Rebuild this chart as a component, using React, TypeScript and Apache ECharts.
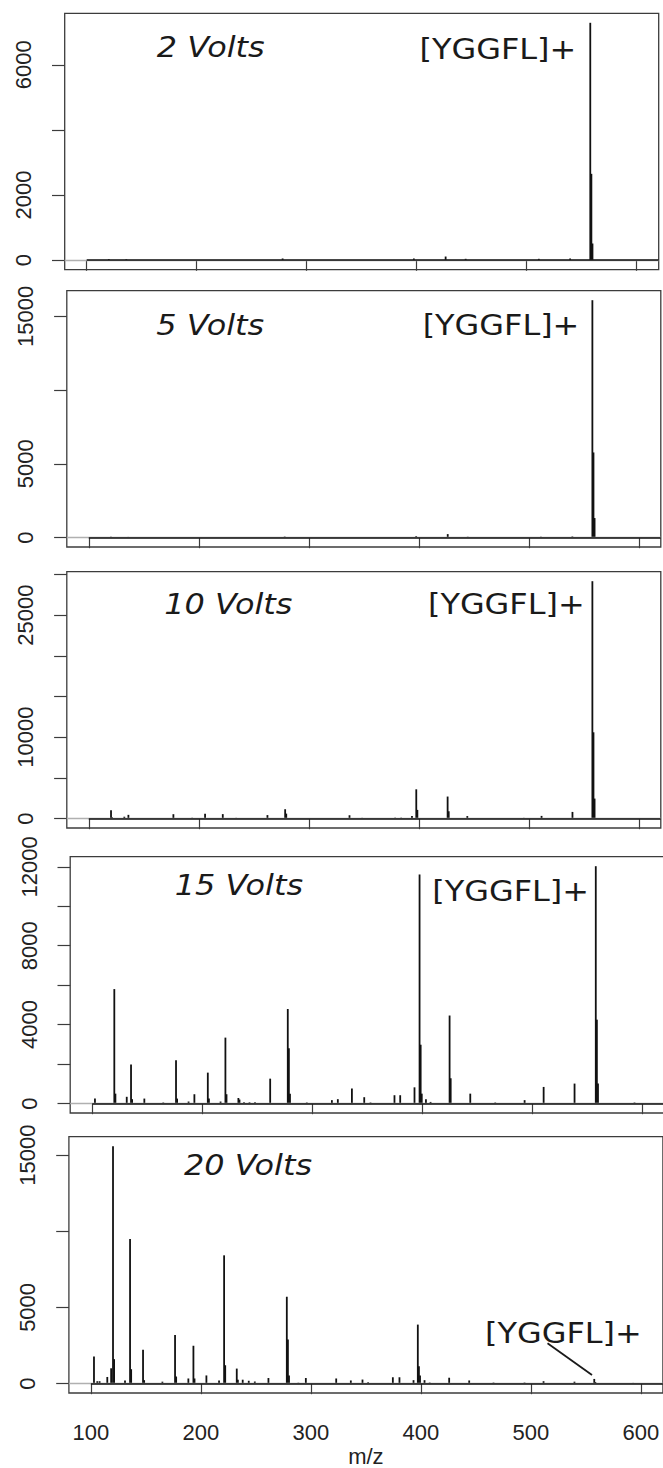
import React, { useEffect, useRef } from "react";
import * as echarts from "echarts";

// m/z axis
const mzTicks = [100, 200, 300, 400, 500, 600];
const mzMin = 80;
const mzMax = 620;

const voltLabels = ["2 Volts", "5 Volts", "10 Volts", "15 Volts", "20 Volts"];
const precursorLabel = "[YGGFL]+";

// 2 V spectrum (peak m/z, intensity)
const mz2V = [120.1, 136, 278.1, 397.4, 426.3, 444.5, 511, 539.5, 557.8, 558.8, 559.8];
const int2V = [30, 25, 50, 50, 110, 40, 40, 50, 7290, 2650, 510];
const yTicks2V = [0, 2000, 4000, 6000];
const yLabels2V = [0, 2000, 6000];

// 5 V spectrum
const mz5V = [120.1, 136, 221, 278.1, 397.6, 426.3, 444.5, 511, 539.6, 557.8, 558.8, 559.8];
const int5V = [50, 40, 40, 60, 90, 230, 50, 50, 70, 16100, 5770, 1320];
const yTicks5V = [0, 5000, 10000, 15000];
const yLabels5V = [0, 5000, 15000];

// 10 V spectrum
const mz10V = [
  120.2, 121.2, 132.3, 136, 176.9, 194, 205.7, 221.8, 234, 262.4, 278.5, 279.5, 337, 348.5,
  378.5, 384, 393.8, 397.7, 398.7, 426.2, 427.2, 444.1, 495.4, 511.6, 539.7, 557.8, 558.8, 559.8,
];
const int10V = [
  1020, 150, 220, 450, 530, 90, 580, 540, 80, 420, 1140, 600, 400, 80,
  100, 100, 300, 3590, 1060, 2700, 890, 300, 80, 320, 810, 29180, 10600, 2450,
];
const yTicks10V = [0, 5000, 10000, 15000, 20000, 25000, 30000];
const yLabels10V = [0, 10000, 25000];

// 15 V spectrum
const mz15V = [
  102.5, 120.1, 121.1, 131.4, 135.3, 136.3, 147.4, 164.6, 176.2, 177.2, 187.6, 192.9, 205.1,
  206.1, 216.7, 221.1, 222.1, 232.9, 233.9, 238, 243, 248, 261.8, 277.8, 278.8, 279.8, 295.1,
  317.9, 323.3, 336.1, 347.3, 353, 374.8, 380, 393, 397.6, 398.6, 399.6, 403.4, 407.6, 424.9,
  425.9, 443.7, 466.4, 493.1, 510.4, 538.5, 557.8, 558.8, 559.8, 593,
];
const int15V = [
  250, 5800, 500, 340, 1980, 220, 250, 50, 2190, 250, 100, 470, 1565,
  250, 100, 3340, 470, 280, 200, 60, 60, 60, 1260, 4790, 2800, 500, 50,
  170, 220, 760, 320, 50, 420, 420, 820, 11610, 2980, 500, 220, 80, 4460,
  1280, 500, 50, 170, 840, 1010, 12030, 4250, 1010, 50,
];
const yTicks15V = [0, 2000, 4000, 6000, 8000, 10000, 12000];
const yLabels15V = [0, 4000, 8000, 12000];

// 20 V spectrum
const mz20V = [
  102.8, 105.8, 107.9, 114.9, 118.4, 120.1, 121.1, 131, 135.6, 136.6, 147.4, 148.4, 165,
  176.5, 177.5, 188.6, 193.2, 194.2, 205, 216.5, 221.1, 222.1, 232.6, 233.6, 238, 243.5, 249,
  261.4, 278.1, 279.1, 280.1, 288.6, 295.4, 323, 336.3, 346.9, 352, 374.5, 380.5, 393.3,
  397.2, 398.2, 399.2, 403.3, 408, 425.7, 443.9, 466, 494.2, 511.5, 539.6, 557.6, 558.6, 593,
];
const int20V = [
  1780, 150, 150, 430, 1000, 15590, 1600, 200, 9500, 940, 2220, 220, 120,
  3180, 460, 330, 2480, 330, 530, 200, 8420, 1200, 980, 250, 250, 180, 130,
  360, 5700, 2890, 520, 50, 360, 330, 200, 260, 80, 410, 410, 220,
  3870, 1130, 520, 220, 60, 380, 200, 60, 60, 150, 120, 300, 100, 40,
];
const yTicks20V = [0, 5000, 10000, 15000];
const yLabels20V = [0, 5000, 15000];

const spectra = [
  { mz: mz2V, intensity: int2V, ticks: yTicks2V, labels: yLabels2V },
  { mz: mz5V, intensity: int5V, ticks: yTicks5V, labels: yLabels5V },
  { mz: mz10V, intensity: int10V, ticks: yTicks10V, labels: yLabels10V },
  { mz: mz15V, intensity: int15V, ticks: yTicks15V, labels: yLabels15V },
  { mz: mz20V, intensity: int20V, ticks: yTicks20V, labels: yLabels20V },
];

// panel layout (px)
const gridLeft = [64.7, 66.8, 66.8, 70.2, 68.9];
const gridTop = [13.3, 290.7, 571.7, 856.7, 1136.7];
const GRID_W = 594;
const GRID_H = 256.3;

// annotation anchors (px): text centre and vertical middle
const voltPos = [
  [210.7, 47.2],
  [210.2, 325.5],
  [228.3, 603.8],
  [238.9, 885.5],
  [248, 1165.5],
];
const precursorPos = [
  [497.9, 48.8],
  [501, 325.5],
  [506.3, 604.5],
  [510.6, 891.2],
  [563.4, 1332.8],
];

const BOX = "#3c3c3c";
const INK = "#111";
const AXIS_FONT = "'Liberation Sans', Arial, sans-serif";
const NOTE_FONT = "'DejaVu Sans', Verdana, sans-serif";

const plainNumber = (v: number) => String(Math.round(v));

export default function App() {
  const ref = useRef<HTMLDivElement>(null);

  useEffect(() => {
    if (!ref.current) return;
    const chart = echarts.init(ref.current, undefined, { renderer: "svg" });

    const grid: any[] = [];
    const xAxis: any[] = [];
    const yAxis: any[] = [];
    const series: any[] = [];
    const graphic: any[] = [];

    spectra.forEach((s, i) => {
      const peakMax = Math.max(...s.intensity);
      const isLast = i === spectra.length - 1;

      grid.push({
        left: gridLeft[i],
        top: gridTop[i],
        width: GRID_W,
        height: GRID_H,
        show: true,
        borderColor: BOX,
        borderWidth: 1.3,
        backgroundColor: "transparent",
        containLabel: false,
        outerBoundsMode: "none",
      });

      xAxis.push({
        type: "value",
        gridIndex: i,
        min: mzMin,
        max: mzMax,
        axisLine: { show: false },
        splitLine: { show: false },
        axisTick: {
          show: true,
          inside: false,
          length: 10.7,
          customValues: mzTicks,
          lineStyle: { color: BOX, width: 1.2 },
        },
        axisLabel: {
          show: isLast,
          customValues: mzTicks,
          formatter: plainNumber,
          margin: 28,
          fontFamily: AXIS_FONT,
          fontSize: 22,
          color: "#222",
        },
        name: isLast ? "m/z" : "",
        nameLocation: "middle",
        nameGap: 52.5,
        nameTextStyle: { fontFamily: AXIS_FONT, fontSize: 22, color: "#222" },
      });

      yAxis.push({
        type: "value",
        gridIndex: i,
        min: -0.04 * peakMax,
        max: 1.04 * peakMax,
        axisLine: { show: false },
        splitLine: { show: false },
        axisTick: {
          show: true,
          inside: false,
          length: 12.7,
          customValues: s.ticks,
          lineStyle: { color: BOX, width: 1.2 },
        },
        axisLabel: {
          show: true,
          customValues: s.labels,
          formatter: plainNumber,
          rotate: 90,
          margin: 30,
          fontFamily: AXIS_FONT,
          fontSize: 22,
          color: "#222",
          hideOverlap: false,
        },
      });

      series.push({
        type: "bar",
        xAxisIndex: i,
        yAxisIndex: i,
        barWidth: 1.8,
        itemStyle: { color: INK },
        data: s.mz.map((m, k) => [m, s.intensity[k]]),
        markLine: {
          silent: true,
          symbol: "none",
          label: { show: false },
          data: [
            { yAxis: 0, lineStyle: { color: "#b0b0b0", width: 1.4, type: "solid" } },
            [
              { coord: [100, 0], lineStyle: { color: INK, width: 1.5, type: "solid" } },
              { coord: [mzMax, 0] },
            ],
          ],
        },
      });

      graphic.push({
        type: "text",
        x: voltPos[i][0],
        y: voltPos[i][1],
        scaleX: 1.14,
        style: {
          text: voltLabels[i],
          fontFamily: NOTE_FONT,
          fontStyle: "italic",
          fontSize: 28,
          fill: "#1a1a1a",
          align: "center",
          verticalAlign: "middle",
        },
      });
      graphic.push({
        type: "text",
        x: precursorPos[i][0],
        y: precursorPos[i][1],
        scaleX: 1.14,
        style: {
          text: precursorLabel,
          fontFamily: NOTE_FONT,
          fontSize: 28,
          fill: "#1a1a1a",
          align: "center",
          verticalAlign: "middle",
        },
      });
    });

    // leader from the label to the weak precursor peak at 20 V
    graphic.push({
      type: "line",
      shape: { x1: 547.5, y1: 1343.3, x2: 592, y2: 1375 },
      style: { stroke: "#1a1a1a", lineWidth: 1.8 },
    });

    chart.setOption({
      animation: false,
      backgroundColor: "#fff",
      grid,
      xAxis,
      yAxis,
      series,
      graphic,
    });

    return () => chart.dispose();
  }, []);

  return (
    <div
      ref={ref}
      style={{ position: "absolute", left: 0, top: 0, width: 663, height: 1468 }}
    />
  );
}
